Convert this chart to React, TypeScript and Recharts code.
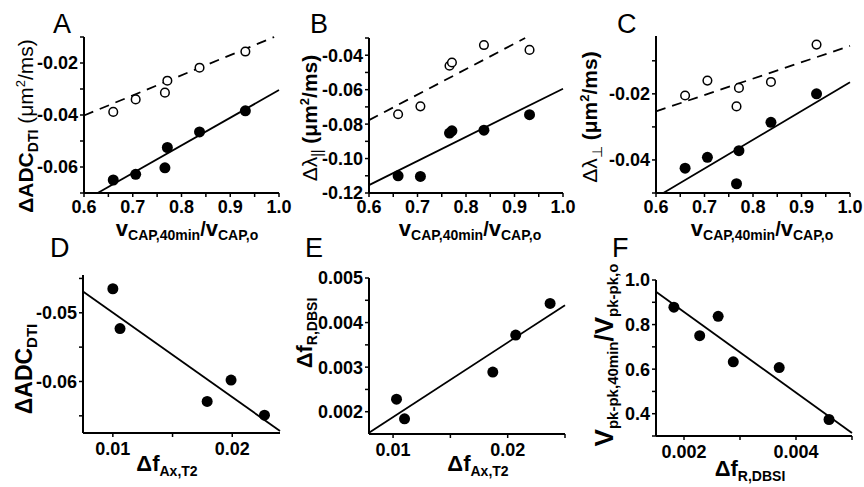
import React from 'react';
import { ScatterChart, Scatter, XAxis, YAxis, ReferenceLine } from 'recharts';

const FONT = '"Liberation Sans", Arial, Helvetica, sans-serif';
const W = 864;
const H = 487;
const YW = 60;
const XH = 30;

// ---- Data ----
const capRatio = [0.66, 0.706, 0.766, 0.771, 0.837, 0.931];
const adcFilled = [-0.065, -0.0628, -0.0603, -0.0525, -0.0465, -0.0384];
const adcOpen = [-0.0388, -0.034, -0.0314, -0.0268, -0.0218, -0.0156];
const parFilled = [-0.11, -0.1104, -0.0852, -0.0839, -0.0835, -0.0745];
const parOpen = [-0.0743, -0.0697, -0.0461, -0.0442, -0.0341, -0.0369];
const perpFilled = [-0.0425, -0.0392, -0.0472, -0.0372, -0.0286, -0.02];
const perpOpen = [-0.0205, -0.016, -0.0238, -0.0182, -0.0164, -0.0051];

const dFax = [0.01, 0.0106, 0.0179, 0.0199, 0.0227];
const dAdc = [-0.0465, -0.0523, -0.0629, -0.0598, -0.0649];
const eFax = [0.0103, 0.011, 0.0187, 0.0207, 0.0237];
const eFr = [0.00228, 0.00184, 0.00289, 0.00372, 0.00443];
const fFr = [0.00182, 0.00228, 0.00261, 0.00288, 0.0037, 0.00459];
const fVpk = [0.878, 0.75, 0.837, 0.633, 0.607, 0.374];

// fit lines: [x1, y1, x2, y2]
const aSolid = [0.628, -0.07, 1.0, -0.0304];
const aDashed = [0.6, -0.0402, 0.99, -0.01];
const bSolid = [0.6, -0.1154, 1.0, -0.0595];
const bDashed = [0.6, -0.0777, 0.922, -0.03];
const cSolid = [0.615, -0.05, 1.0, -0.0165];
const cDashed = [0.6, -0.0253, 1.0, -0.0055];
const dSolid = [0.0075, -0.0469, 0.024, -0.0672];
const eSolid = [0.0079, 0.00153, 0.025, 0.00439];
const fSolid = [0.0015, 0.947, 0.005, 0.313];

const zip = (xs: number[], ys: number[]) => xs.map((x, i) => ({ x, y: ys[i] }));
const seg = (s: number[]) => [{ x: s[0], y: s[1] }, { x: s[2], y: s[3] }];

const FilledDot = (props: any) => <circle cx={props.cx} cy={props.cy} r={5.5} fill="#000" />;
const OpenDot = (props: any) => (
  <circle cx={props.cx} cy={props.cy} r={4.3} fill="#fff" stroke="#000" strokeWidth={1.5} />
);

type PanelDef = {
  left: number; right: number; top: number; bottom: number;
  xDomain: number[]; yDomain: number[];
  xMajor: number[]; xMinor: number[]; yMajor: number[]; yMinor: number[];
  xDec: number; yDec: number; xTickMargin: number;
  filled: { x: number; y: number }[];
  open?: { x: number; y: number }[];
  solid: number[]; dashed?: number[];
};

const isIn = (v: number, arr: number[]) => arr.some((a) => Math.abs(a - v) < 1e-9);

const tickStyle = { fontSize: 18, fontWeight: 'bold', fill: '#000', fontFamily: FONT };

function Panel({ p }: { p: PanelDef }) {
  const xTicks = [...p.xMajor, ...p.xMinor].sort((a, b) => a - b);
  const yTicks = [...p.yMajor, ...p.yMinor].sort((a, b) => a - b);
  return (
    <div style={{ position: 'absolute', left: 0, top: 0 }}>
      <ScatterChart
        width={W}
        height={H}
        margin={{ left: p.left - YW, top: p.top, right: W - p.right, bottom: H - p.bottom - XH }}
      >
        <XAxis
          type="number"
          dataKey="x"
          domain={p.xDomain}
          allowDataOverflow
          ticks={xTicks}
          interval={0}
          height={XH}
          tickSize={4}
          tickMargin={p.xTickMargin}
          axisLine={{ stroke: '#000', strokeWidth: 2 }}
          tickLine={{ stroke: '#000', strokeWidth: 1.5 }}
          tick={tickStyle}
          tickFormatter={(v: number) => (isIn(v, p.xMajor) ? v.toFixed(p.xDec) : '')}
        />
        <YAxis
          type="number"
          dataKey="y"
          domain={p.yDomain}
          allowDataOverflow
          ticks={yTicks}
          interval={0}
          width={YW}
          tickSize={4}
          tickMargin={2}
          axisLine={{ stroke: '#000', strokeWidth: 2 }}
          tickLine={{ stroke: '#000', strokeWidth: 1.5 }}
          tick={tickStyle}
          tickFormatter={(v: number) => (isIn(v, p.yMajor) ? v.toFixed(p.yDec) : '')}
        />
        <ReferenceLine segment={seg(p.solid)} stroke="#000" strokeWidth={1.8} ifOverflow="visible" />
        {p.dashed && (
          <ReferenceLine
            segment={seg(p.dashed)}
            stroke="#000"
            strokeWidth={1.8}
            strokeDasharray="10 7"
            ifOverflow="visible"
          />
        )}
        {p.open && <Scatter data={p.open} shape={OpenDot} isAnimationActive={false} />}
        <Scatter data={p.filled} shape={FilledDot} isAnimationActive={false} />
      </ScatterChart>
    </div>
  );
}

const panels: PanelDef[] = [
  {
    left: 84, right: 279, top: 37, bottom: 193,
    xDomain: [0.6, 1.0], yDomain: [-0.07, -0.01],
    xMajor: [0.6, 0.7, 0.8, 0.9, 1.0], xMinor: [0.65, 0.75, 0.85, 0.95],
    yMajor: [-0.06, -0.04, -0.02], yMinor: [-0.07, -0.05, -0.03, -0.01],
    xDec: 1, yDec: 2, xTickMargin: 3,
    filled: zip(capRatio, adcFilled), open: zip(capRatio, adcOpen),
    solid: aSolid, dashed: aDashed,
  },
  {
    left: 369, right: 563, top: 38, bottom: 193,
    xDomain: [0.6, 1.0], yDomain: [-0.12, -0.03],
    xMajor: [0.6, 0.7, 0.8, 0.9, 1.0], xMinor: [0.65, 0.75, 0.85, 0.95],
    yMajor: [-0.12, -0.1, -0.08, -0.06, -0.04], yMinor: [-0.11, -0.09, -0.07, -0.05, -0.03],
    xDec: 1, yDec: 2, xTickMargin: 3,
    filled: zip(capRatio, parFilled), open: zip(capRatio, parOpen),
    solid: bSolid, dashed: bDashed,
  },
  {
    left: 656, right: 850, top: 36, bottom: 193,
    xDomain: [0.6, 1.0], yDomain: [-0.05, -0.0025],
    xMajor: [0.6, 0.7, 0.8, 0.9, 1.0], xMinor: [0.65, 0.75, 0.85, 0.95],
    yMajor: [-0.04, -0.02], yMinor: [-0.05, -0.03, -0.01],
    xDec: 1, yDec: 2, xTickMargin: 3,
    filled: zip(capRatio, perpFilled), open: zip(capRatio, perpOpen),
    solid: cSolid, dashed: cDashed,
  },
  {
    left: 83, right: 280, top: 275, bottom: 433,
    xDomain: [0.0075, 0.024], yDomain: [-0.0675, -0.0445],
    xMajor: [0.01, 0.02], xMinor: [0.015],
    yMajor: [-0.06, -0.05], yMinor: [-0.065, -0.055, -0.045],
    xDec: 2, yDec: 2, xTickMargin: 5,
    filled: zip(dFax, dAdc), solid: dSolid,
  },
  {
    left: 369, right: 565, top: 278, bottom: 434,
    xDomain: [0.0079, 0.025], yDomain: [0.0015, 0.005],
    xMajor: [0.01, 0.02], xMinor: [0.015, 0.025],
    yMajor: [0.002, 0.003, 0.004, 0.005], yMinor: [0.0025, 0.0035, 0.0045],
    xDec: 2, yDec: 3, xTickMargin: 5,
    filled: zip(eFax, eFr), solid: eSolid,
  },
  {
    left: 656, right: 852, top: 280, bottom: 436,
    xDomain: [0.0015, 0.005], yDomain: [0.3, 1.0],
    xMajor: [0.002, 0.004], xMinor: [0.003, 0.005],
    yMajor: [0.4, 0.6, 0.8, 1.0], yMinor: [0.3, 0.5, 0.7, 0.9],
    xDec: 3, yDec: 1, xTickMargin: 5,
    filled: zip(fFr, fVpk), solid: fSolid,
  },
];

const letters = [
  { t: 'A', x: 53, y: 33 },
  { t: 'B', x: 310, y: 33 },
  { t: 'C', x: 617, y: 33 },
  { t: 'D', x: 50, y: 257 },
  { t: 'E', x: 305, y: 257 },
  { t: 'F', x: 612, y: 257 },
];

function CapLabel({ cx }: { cx: number }) {
  return (
    <text x={cx} y={236} textAnchor="middle" fontWeight="bold" fontSize={22} fontFamily={FONT}>
      v<tspan fontSize={14} dy={4}>CAP,40min</tspan>
      <tspan fontSize={20} dy={-4}>/</tspan>
      <tspan fontSize={22}>v</tspan>
      <tspan fontSize={14} dy={4}>CAP,o</tspan>
    </text>
  );
}

function FaxLabel({ cx, y }: { cx: number; y: number }) {
  return (
    <text x={cx} y={y} textAnchor="middle" fontWeight="bold" fontSize={22} fontFamily={FONT}>
      Δf<tspan fontSize={14} dy={5}>Ax,T2</tspan>
    </text>
  );
}

function Overlay() {
  return (
    <svg width={W} height={H} style={{ position: 'absolute', left: 0, top: 0, pointerEvents: 'none' }}>
      {letters.map((l) => (
        <text key={l.t} x={l.x} y={l.y} fontSize={27} fontFamily={FONT} fill="#000">
          {l.t}
        </text>
      ))}
      <CapLabel cx={187} />
      <CapLabel cx={470} />
      <CapLabel cx={762} />
      <FaxLabel cx={167} y={471} />
      <FaxLabel cx={478} y={471} />
      <text x={750} y={476} textAnchor="middle" fontWeight="bold" fontSize={22} fontFamily={FONT}>
        Δf<tspan fontSize={14} dy={5}>R,DBSI</tspan>
      </text>

      {/* A y label */}
      <text transform="translate(33,126) rotate(-90)" textAnchor="middle" fontSize={21} fontFamily={FONT}>
        <tspan fontWeight="bold">ΔADC</tspan>
        <tspan fontWeight="bold" fontSize={14} dy={5}>DTI</tspan>
        <tspan dy={-5}> (μm</tspan>
        <tspan fontSize={13} dy={-8}>2</tspan>
        <tspan dy={8}>/ms)</tspan>
      </text>
      {/* B y label */}
      <text transform="translate(317,118) rotate(-90)" textAnchor="middle" fontSize={21} fontFamily={FONT}>
        <tspan>Δλ</tspan>
        <tspan fontSize={14} dy={5}>||</tspan>
        <tspan dy={-5} fontWeight="bold"> (μm</tspan>
        <tspan fontSize={13} dy={-8} fontWeight="bold">2</tspan>
        <tspan dy={8} fontWeight="bold">/ms)</tspan>
      </text>
      {/* C y label */}
      <text transform="translate(597,117) rotate(-90)" textAnchor="middle" fontSize={21} fontFamily={FONT}>
        <tspan>Δλ</tspan>
        <tspan fontSize={14} dy={5}>⊥</tspan>
        <tspan dy={-5} fontWeight="bold"> (μm</tspan>
        <tspan fontSize={13} dy={-8} fontWeight="bold">2</tspan>
        <tspan dy={8} fontWeight="bold">/ms)</tspan>
      </text>
      {/* D y label */}
      <text transform="translate(32,369) rotate(-90)" textAnchor="middle" fontSize={23} fontWeight="bold" fontFamily={FONT}>
        ΔADC<tspan fontSize={15} dy={5}>DTI</tspan>
      </text>
      {/* E y label */}
      <text transform="translate(312,333) rotate(-90)" textAnchor="middle" fontSize={22} fontWeight="bold" fontFamily={FONT}>
        Δf<tspan fontSize={14} dy={5}>R,DBSI</tspan>
      </text>
      {/* F y label */}
      <text transform="translate(613,355) rotate(-90)" textAnchor="middle" fontSize={26} fontWeight="bold" fontFamily={FONT}>
        V<tspan fontSize={15} dy={5}>pk-pk,40min</tspan>
        <tspan fontSize={26} dy={-5}>/V</tspan>
        <tspan fontSize={15} dy={5}>pk-pk,o</tspan>
      </text>
    </svg>
  );
}

export default function App() {
  return (
    <div style={{ position: 'absolute', left: 0, top: 0, width: W, height: H, background: '#fff' }}>
      {panels.map((p, i) => (
        <Panel key={i} p={p} />
      ))}
      <Overlay />
    </div>
  );
}
